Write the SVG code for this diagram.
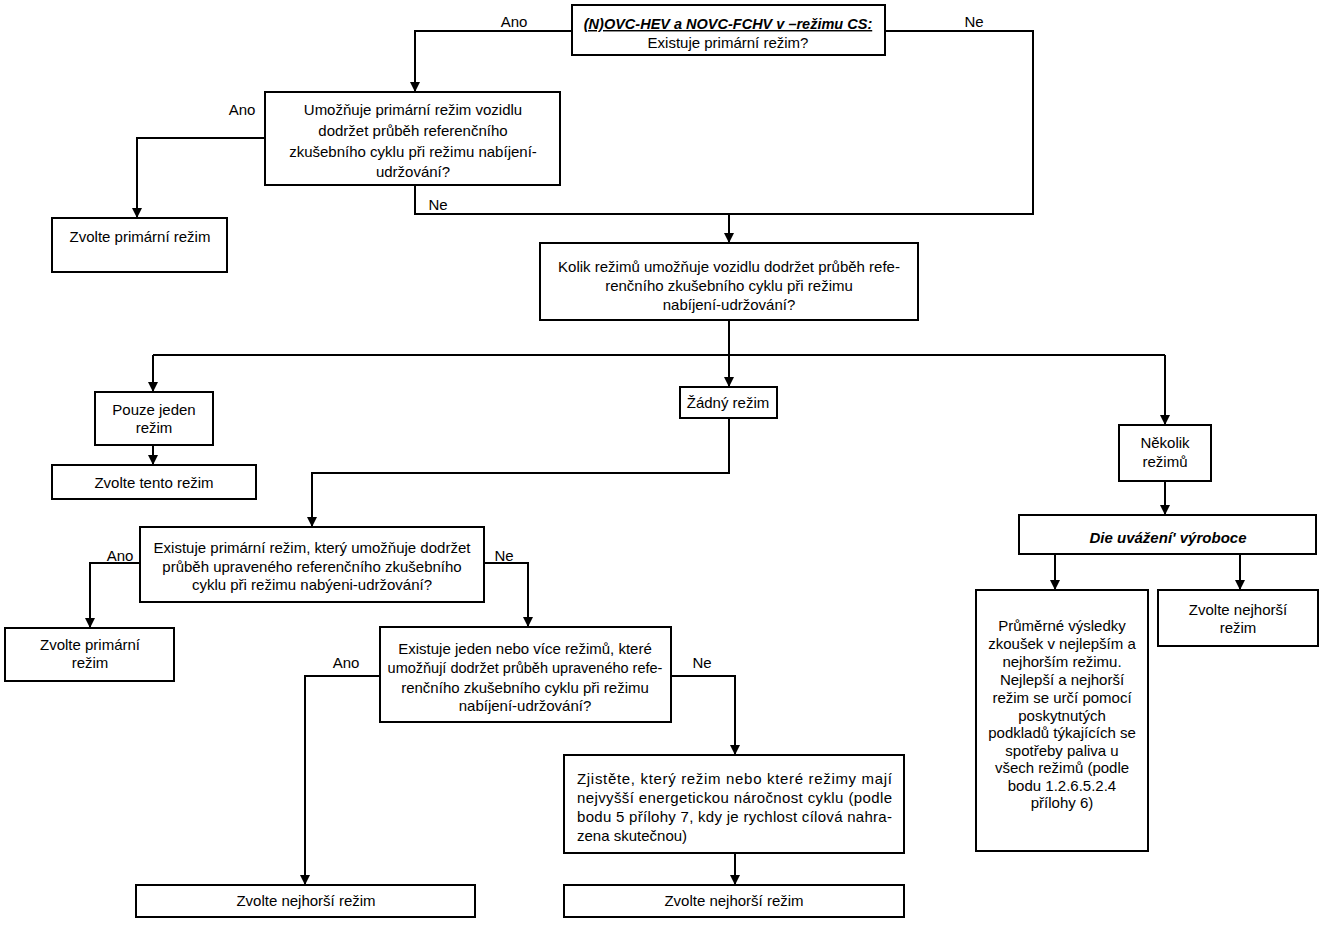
<svg xmlns="http://www.w3.org/2000/svg" width="1332" height="925" viewBox="0 0 1332 925">
<defs>
<marker id="arr" viewBox="0 0 10 10" refX="10" refY="5" markerWidth="5" markerHeight="5" orient="auto"><path d="M0,0 L10,5 L0,10 z" fill="#000"/></marker>
<style>
rect{fill:#fff;stroke:#000;stroke-width:2}
text{font-family:"Liberation Sans",Arial,sans-serif;font-size:15px;fill:#000}
.c{text-anchor:middle}
.bi{font-weight:bold;font-style:italic}
.conn path{fill:none;stroke:#000;stroke-width:2}
.a{marker-end:url(#arr)}
</style>
</defs>
<rect x="0" y="0" width="1332" height="925" style="fill:#fff;stroke:none"/>
<g class="conn" id="connectors">
<path class="a" d="M572,31 H415 V92"/>
<path d="M885,31 H1033 V214 H415 V185"/>
<path class="a" d="M729,214 V243"/>
<path class="a" d="M265,138 H137 V218"/>
<path class="a" d="M729,320 V387"/>
<path d="M153,355 H1165"/>
<path class="a" d="M153,355 V392"/>
<path class="a" d="M1165,355 V425"/>
<path class="a" d="M153,445 V465"/>
<path class="a" d="M729,418 V473 H312 V527"/>
<path class="a" d="M1165,481 V515"/>
<path class="a" d="M1055,554 V590"/>
<path class="a" d="M1240,554 V590"/>
<path class="a" d="M140,563 H90 V628"/>
<path class="a" d="M484,563 H528 V627"/>
<path class="a" d="M380,676 H305 V885"/>
<path class="a" d="M671,676 H735 V755"/>
<path class="a" d="M735,853 V885"/>
</g>
<g id="labels">
<text class="c" x="514" y="27">Ano</text>
<text class="c" x="974" y="27">Ne</text>
<text class="c" x="242" y="115">Ano</text>
<text class="c" x="438" y="210">Ne</text>
<text class="c" x="120" y="561">Ano</text>
<text class="c" x="504" y="561">Ne</text>
<text class="c" x="346" y="668">Ano</text>
<text class="c" x="702" y="668">Ne</text>
</g>
<g id="n1">
<rect x="572" y="5" width="313" height="50"/>
<text class="c bi" x="728" y="29" style="font-size:14.5px" text-decoration="underline">(N)OVC-HEV a NOVC-FCHV v –režimu CS:</text>
<text class="c" x="728" y="48">Existuje primární režim?</text>
</g>
<g id="n2">
<rect x="265" y="92" width="295" height="93"/>
<text class="c" x="413" y="115">Umožňuje primární režim vozidlu</text>
<text class="c" x="413" y="136">dodržet průběh referenčního</text>
<text class="c" x="413" y="157">zkušebního cyklu při režimu nabíjení-</text>
<text class="c" x="413" y="177">udržování?</text>
</g>
<g id="n3">
<rect x="52" y="218" width="175" height="54"/>
<text class="c" x="140" y="242">Zvolte primární režim</text>
</g>
<g id="n4">
<rect x="540" y="243" width="378" height="77"/>
<text class="c" x="729" y="272">Kolik režimů umožňuje vozidlu dodržet průběh refe-</text>
<text class="c" x="729" y="291">renčního zkušebního cyklu při režimu</text>
<text class="c" x="729" y="310">nabíjení-udržování?</text>
</g>
<g id="n5">
<rect x="95" y="392" width="118" height="53"/>
<text class="c" x="154" y="415">Pouze jeden</text>
<text class="c" x="154" y="433">režim</text>
</g>
<g id="n6">
<rect x="52" y="465" width="204" height="34"/>
<text class="c" x="154" y="488">Zvolte tento režim</text>
</g>
<g id="n7">
<rect x="680" y="387" width="97" height="31"/>
<text class="c" x="728" y="408">Žádný režim</text>
</g>
<g id="n8">
<rect x="1119" y="425" width="92" height="56"/>
<text class="c" x="1165" y="448">Několik</text>
<text class="c" x="1165" y="467">režimů</text>
</g>
<g id="n9">
<rect x="1019" y="515" width="297" height="39"/>
<text class="c bi" x="1168" y="543">Die uvážení' výroboce</text>
</g>
<g id="n10">
<rect x="976" y="590" width="172" height="261"/>
<text class="c" x="1062" y="631">Průměrné výsledky</text>
<text class="c" x="1062" y="649">zkoušek v nejlepším a</text>
<text class="c" x="1062" y="667">nejhorším režimu.</text>
<text class="c" x="1062" y="685">Nejlepší a nejhorší</text>
<text class="c" x="1062" y="703">režim se určí pomocí</text>
<text class="c" x="1062" y="721">poskytnutých</text>
<text class="c" x="1062" y="738">podkladů týkajících se</text>
<text class="c" x="1062" y="756">spotřeby paliva u</text>
<text class="c" x="1062" y="773">všech režimů (podle</text>
<text class="c" x="1062" y="791">bodu 1.2.6.5.2.4</text>
<text class="c" x="1062" y="808">přílohy 6)</text>
</g>
<g id="n11">
<rect x="1158" y="590" width="160" height="56"/>
<text class="c" x="1238" y="615">Zvolte nejhorší</text>
<text class="c" x="1238" y="633">režim</text>
</g>
<g id="n12">
<rect x="140" y="527" width="344" height="75"/>
<text class="c" x="312" y="553">Existuje primární režim, který umožňuje dodržet</text>
<text class="c" x="312" y="572">průběh upraveného referenčního zkušebního</text>
<text class="c" x="312" y="590">cyklu při režimu nabýeni-udržování?</text>
</g>
<g id="n13">
<rect x="5" y="628" width="169" height="53"/>
<text class="c" x="90" y="650">Zvolte primární</text>
<text class="c" x="90" y="668">režim</text>
</g>
<g id="n14">
<rect x="380" y="627" width="291" height="95"/>
<text class="c" x="525" y="654">Existuje jeden nebo více režimů, které</text>
<text class="c" x="525" y="673" style="font-size:14.5px">umožňují dodržet průběh upraveného refe-</text>
<text class="c" x="525" y="693">renčního zkušebního cyklu při režimu</text>
<text class="c" x="525" y="711">nabíjení-udržování?</text>
</g>
<g id="n15">
<rect x="564" y="755" width="340" height="98"/>
<text x="577" y="784" textLength="315" lengthAdjust="spacing">Zjistěte, který režim nebo které režimy mají</text>
<text x="577" y="803" textLength="315" lengthAdjust="spacing">nejvyšší energetickou náročnost cyklu (podle</text>
<text x="577" y="822" textLength="315" lengthAdjust="spacing">bodu 5 přílohy 7, kdy je rychlost cílová nahra-</text>
<text x="577" y="841">zena skutečnou)</text>
</g>
<g id="n16">
<rect x="564" y="885" width="340" height="32"/>
<text class="c" x="734" y="906">Zvolte nejhorší režim</text>
</g>
<g id="n17">
<rect x="136" y="885" width="339" height="32"/>
<text class="c" x="306" y="906">Zvolte nejhorší režim</text>
</g>
</svg>
